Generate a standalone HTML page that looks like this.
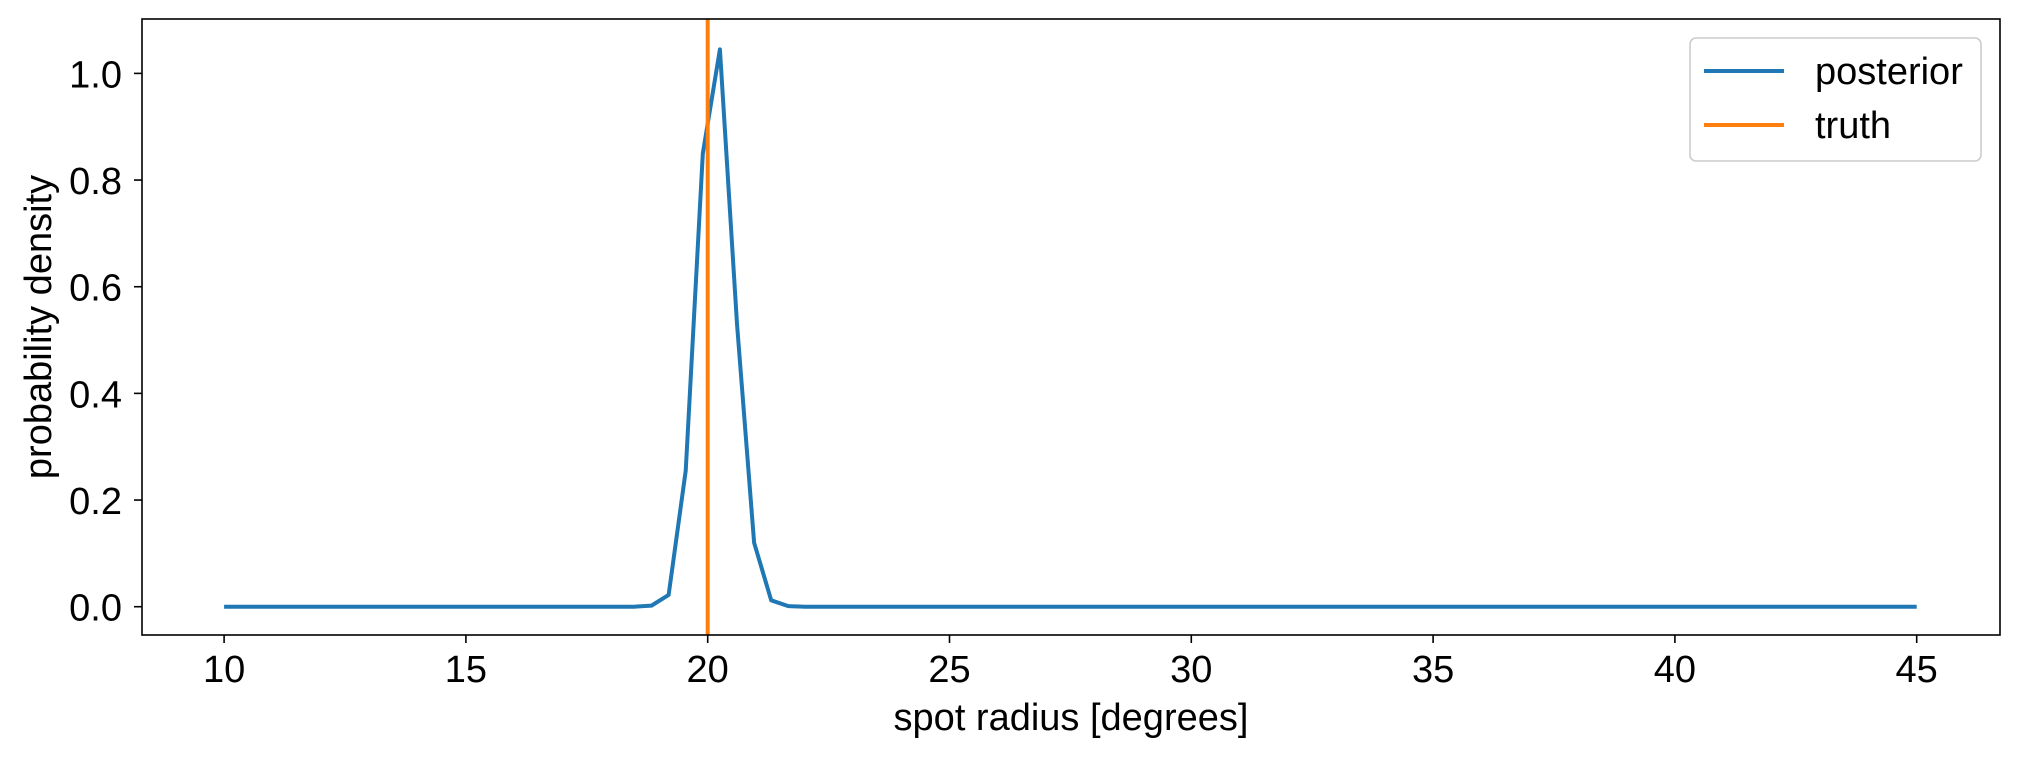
<!DOCTYPE html>
<html><head><meta charset="utf-8"><style>
html,body{margin:0;padding:0;background:#fff;}
svg{display:block;font-family:"Liberation Sans",sans-serif;}
</style></head><body>
<svg id="chart" width="2020" height="758" xmlns="http://www.w3.org/2000/svg">
<rect x="0" y="0" width="2020" height="758" fill="#fff"/>
<g id="ticks"></g>
<g id="marks"></g>
<rect x="142" y="19" width="1858" height="616" fill="none" stroke="#000" stroke-width="1.6"/>
<text x="1071" y="730" font-size="38" text-anchor="middle">spot radius [degrees]</text>
<text transform="translate(51,327) rotate(-90)" font-size="38" text-anchor="middle">probability density</text>
<g>
<rect x="1690" y="38" width="291" height="123" rx="6" fill="#fff" fill-opacity="0.8" stroke="#ccc" stroke-width="1.6"/>
<line x1="1704" y1="71" x2="1784" y2="71" stroke="#1f77b4" stroke-width="4"/>
<text x="1815" y="84" font-size="38">posterior</text>
<line x1="1704" y1="125" x2="1784" y2="125" stroke="#ff7f0e" stroke-width="4"/>
<text x="1815" y="138" font-size="38">truth</text>
</g>
</svg>
<script>
const xTicks = [10, 15, 20, 25, 30, 35, 40, 45];
const yTicks = [0.0, 0.2, 0.4, 0.6, 0.8, 1.0];
const yTickLabels = ["0.0", "0.2", "0.4", "0.6", "0.8", "1.0"];
const peakIndices = [24, 25, 26, 27, 28, 29, 30, 31, 32, 33];
const peakValues = [0, 0.002, 0.022, 0.255, 0.85, 1.045, 0.53, 0.12, 0.012, 0.001];
const nPoints = 100;
const xMin = 10, xMax = 45;
const truthValue = 20;

const NS = "http://www.w3.org/2000/svg";
function sx(v){ return 224.1 + (v - 10) * (1916.7 - 224.1) / 35; }
function sy(v){ return 606.7 - v * (606.7 - 73.4); }

const ticksG = document.getElementById('ticks');
const marksG = document.getElementById('marks');

xTicks.forEach(t => {
  const l = document.createElementNS(NS, 'line');
  l.setAttribute('x1', sx(t)); l.setAttribute('x2', sx(t));
  l.setAttribute('y1', 635); l.setAttribute('y2', 643);
  l.setAttribute('stroke', '#000'); l.setAttribute('stroke-width', '1.6');
  
  
  ticksG.appendChild(l);
  const tx = document.createElementNS(NS, 'text');
  tx.setAttribute('x', sx(t)); tx.setAttribute('y', 682);
  tx.setAttribute('font-size', '38'); tx.setAttribute('text-anchor', 'middle');
  tx.textContent = t;
  
  
  ticksG.appendChild(tx);
});
yTicks.forEach((t, i) => {
  const l = document.createElementNS(NS, 'line');
  l.setAttribute('x1', 134); l.setAttribute('x2', 142);
  l.setAttribute('y1', sy(t)); l.setAttribute('y2', sy(t));
  l.setAttribute('stroke', '#000'); l.setAttribute('stroke-width', '1.6');
  
  
  ticksG.appendChild(l);
  const tx = document.createElementNS(NS, 'text');
  tx.setAttribute('x', 122); tx.setAttribute('y', sy(t) + 14);
  tx.setAttribute('font-size', '38'); tx.setAttribute('text-anchor', 'end');
  tx.textContent = yTickLabels[i];
  
  
  ticksG.appendChild(tx);
});

const ys = new Array(nPoints).fill(0);
peakIndices.forEach((idx, k) => { ys[idx] = peakValues[k]; });
let d = '';
for (let i = 0; i < nPoints; i++) {
  const xv = xMin + i * (xMax - xMin) / (nPoints - 1);
  d += (i ? 'L' : 'M') + sx(xv).toFixed(2) + ' ' + sy(ys[i]).toFixed(2);
}
const p = document.createElementNS(NS, 'path');
p.setAttribute('d', d);
p.setAttribute('fill', 'none'); p.setAttribute('stroke', '#1f77b4');
p.setAttribute('stroke-width', '4'); p.setAttribute('stroke-linejoin', 'round');


marksG.appendChild(p);

const tl = document.createElementNS(NS, 'line');
tl.setAttribute('x1', sx(truthValue)); tl.setAttribute('x2', sx(truthValue));
tl.setAttribute('y1', 19); tl.setAttribute('y2', 635);
tl.setAttribute('stroke', '#ff7f0e'); tl.setAttribute('stroke-width', '4');


marksG.appendChild(tl);
</script>
</body></html>
